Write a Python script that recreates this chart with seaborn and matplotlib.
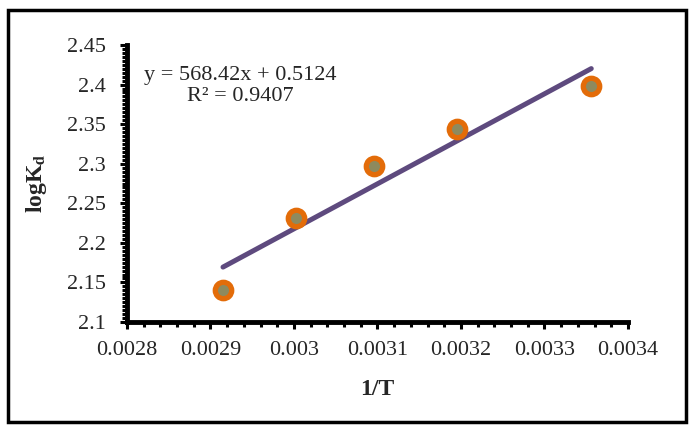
import matplotlib
matplotlib.use("Agg")
import matplotlib.pyplot as plt
import matplotlib.ticker as mticker
from matplotlib.patches import Rectangle
import seaborn as sns
import pandas as pd

# 1/T values and log Kd
inv_t = [0.002915, 0.003003, 0.003096, 0.003195, 0.003356]
log_kd = [2.140, 2.231, 2.297, 2.344, 2.398]
fit_label = "y = 568.42x + 0.5124\nR² = 0.9407"

df = pd.DataFrame({"inv_t": inv_t, "log_kd": log_kd})

sns.set_style("white")
plt.rcParams["font.family"] = ["Liberation Serif", "DejaVu Serif"]
plt.rcParams["mathtext.fontset"] = "stix"

fig = plt.figure(figsize=(6.95, 4.32), dpi=100)
ax = fig.add_axes([0.1827, 0.2546, 0.7209, 0.6412])

# linear trendline over the data range
sns.regplot(data=df, x="inv_t", y="log_kd", scatter=False, ci=None, ax=ax,
            line_kws={"color": "#5E4A7E", "lw": 3.6, "solid_capstyle": "round"})

sns.scatterplot(data=df, x="inv_t", y="log_kd", ax=ax, s=140,
                color="#8E8A5E", edgecolor="#E36C09", linewidth=3.8, zorder=3)

ax.set_xlim(0.0028, 0.0034)
ax.set_ylim(2.1, 2.45)
ax.xaxis.set_major_locator(mticker.MultipleLocator(0.0001))
ax.xaxis.set_minor_locator(mticker.MultipleLocator(0.00002))
ax.yaxis.set_major_locator(mticker.MultipleLocator(0.05))
ax.yaxis.set_minor_locator(mticker.MultipleLocator(0.005))
ax.xaxis.set_major_formatter(mticker.FuncFormatter(lambda v, _: f"{v:.4f}".rstrip("0")))
ax.yaxis.set_major_formatter(mticker.FuncFormatter(lambda v, _: f"{v:.2f}".rstrip("0").rstrip(".")))

for side in ["top", "right"]:
    ax.spines[side].set_visible(False)
for side in ["left", "bottom"]:
    ax.spines[side].set_linewidth(3.5)
    ax.spines[side].set_color("black")

ax.tick_params(axis="x", which="both", bottom=True)
ax.tick_params(axis="y", which="both", left=True)
ax.tick_params(which="both", direction="out", color="black", width=2.2)
ax.tick_params(which="major", length=5, labelsize=16)
ax.tick_params(which="minor", length=3.5)
ax.tick_params(axis="x", which="major", pad=9)
ax.tick_params(axis="y", which="major", pad=10)

ax.set_xlabel("1/T", fontsize=17, fontweight="bold", labelpad=13)
ax.set_ylabel(r"logK$_\mathbf{d}$", fontsize=17, fontweight="bold", labelpad=13)

ax.text(0.2255, 0.852, fit_label, transform=ax.transAxes, fontsize=16,
        ha="center", va="center", multialignment="center", linespacing=1.15)

# outer chart border
fig.patches.append(Rectangle((0.0115, 0.023), 0.9755, 0.954, transform=fig.transFigure,
                             fill=False, edgecolor="black", linewidth=2.5))

fig.savefig("out.png", dpi=100)
